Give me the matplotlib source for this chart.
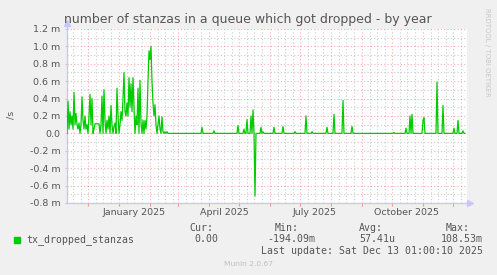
import numpy as np
import pandas as pd
import matplotlib
matplotlib.use('Agg')
import matplotlib.pyplot as plt
from matplotlib.patches import Rectangle

dense_start = '2024-11-10'
dense_values = [0.0, 0.37, 0.05, 0.25, 0.1, 0.2, 0.05, 0.47, 0.1, 0.23,
                0.1, 0.05, 0.12, 0.0, 0.1, 0.42, 0.15, 0.05, 0.2, 0.05,
                0.1, 0.0, 0.2, 0.45, 0.1, 0.4, 0.0, 0.05, 0.11, 0.11,
                0.11, 0.11, 0.11, 0.0, 0.1, 0.43, 0.0, 0.5, 0.15, 0.0,
                0.15, 0.05, 0.2, 0.0, 0.32, 0.1, 0.0, 0.08, 0.12, 0.0,
                0.52, 0.2, 0.0, 0.1, 0.25, 0.15, 0.4, 0.7, 0.25, 0.2,
                0.35, 0.2, 0.64, 0.3, 0.57, 0.25, 0.64, 0.3, 0.0, 0.2,
                0.1, 0.52, 0.0, 0.61, 0.12, 0.0, 0.15, 0.0, 0.15, 0.05,
                0.2, 0.6, 0.95, 0.85, 1.0, 0.6, 0.35, 0.2, 0.33, 0.1,
                0.0, 0.1, 0.2, 0.05, 0.0, 0.19, 0.02, 0.0, 0.02, 0.0,
                0.02]

# isolated spikes later in the year
spike_dates = ['2025-03-25', '2025-04-06', '2025-04-30', '2025-05-06', '2025-05-09',
               '2025-05-13', '2025-05-15', '2025-05-17', '2025-05-23', '2025-05-25',
               '2025-06-05', '2025-06-14', '2025-06-26', '2025-07-07', '2025-07-13',
               '2025-07-28', '2025-08-04', '2025-08-13', '2025-08-22', '2025-10-03',
               '2025-10-15', '2025-10-19', '2025-10-21', '2025-11-01', '2025-11-02',
               '2025-11-15', '2025-11-21', '2025-12-02', '2025-12-06', '2025-12-11']
spike_values = [0.07, 0.03, 0.09, 0.05, 0.16,
                0.2, 0.27, -0.72, 0.07, 0.02,
                0.07, 0.08, 0.02, 0.2, 0.02,
                0.07, 0.22, 0.38, 0.08, 0.01,
                0.06, 0.2, 0.22, 0.15, 0.18,
                0.59, 0.32, 0.06, 0.15, 0.03]
last_day = '2025-12-13'

x_start, x_end = '2024-11-10', '2025-12-15'
ytick_values = [-0.8, -0.6, -0.4, -0.2, 0.0, 0.2, 0.4, 0.6, 0.8, 1.0, 1.2]
ytick_labels = ['-0.8 m', '-0.6 m', '-0.4 m', '-0.2 m', '0.0', '0.2 m', '0.4 m',
                '0.6 m', '0.8 m', '1.0 m', '1.2 m']
month_labels = {'2025-01-16': 'January 2025', '2025-04-16': 'April 2025',
                '2025-07-16': 'July 2025', '2025-10-16': 'October 2025'}

days = pd.date_range(dense_start, last_day, freq='D')
series = pd.Series(0.0, index=days)
series.iloc[:len(dense_values)] = dense_values
series.loc[pd.to_datetime(spike_dates)] = spike_values

W, H = 497, 275
def fx(x):
    return x / W
def fy(y):
    return 1 - y / H

txt = '#555555'
fig = plt.figure(figsize=(W / 100, H / 100), dpi=100, facecolor='#f0f0f0')
ax = fig.add_axes([fx(67), fy(203), 400 / W, 174 / H])
ax.set_facecolor('white')

ax.plot(series.index, series.values, color='#00cc00', lw=0.9, zorder=3)

ax.set_xlim(pd.Timestamp(x_start), pd.Timestamp(x_end))
ax.set_ylim(-0.8, 1.2)

months = pd.date_range('2024-12-01', '2025-12-01', freq='MS')
minor_days = [d for d in pd.date_range(x_start, x_end, freq='D') if d.day in (9, 16, 24)]
ax.set_xticks(months)
ax.set_xticks(minor_days, minor=True)
ax.set_xticklabels([])
ax.set_yticks(ytick_values)
ax.set_yticks(np.arange(-0.7, 1.2, 0.2), minor=True)
ax.set_yticklabels(ytick_labels, fontsize=6.8, color=txt)

ax.grid(which='major', color='#ff8080', alpha=0.65, linestyle=(0, (1, 2)), lw=0.8, zorder=1)
ax.grid(which='minor', color='#cccccc', linestyle=(0, (1, 2)), lw=0.8, zorder=1)
ax.tick_params(axis='x', which='major', length=2, color='#ff9090')
ax.tick_params(axis='x', which='minor', length=0)
ax.tick_params(axis='y', which='major', length=1.5, pad=3.3, color='#c8c8c8')
ax.tick_params(axis='y', which='minor', length=0)

for s in ['top', 'right']:
    ax.spines[s].set_visible(False)
for s in ['left', 'bottom']:
    ax.spines[s].set_color('#c8c8f8')
    ax.spines[s].set_linewidth(1.0)
ax.plot([0, 0], [1.0, 1.035], transform=ax.transAxes, color='#c8c8f8', lw=1, clip_on=False)
ax.plot([1.0, 1.0075], [0, 0], transform=ax.transAxes, color='#c8c8f8', lw=1, clip_on=False)
ax.plot([0], [1.035], marker='^', ms=4, color='#c8c8f8', transform=ax.transAxes, clip_on=False)
ax.plot([1.0075], [0], marker='>', ms=4, color='#c8c8f8', transform=ax.transAxes, clip_on=False)

for d, lab in month_labels.items():
    ax.text(pd.Timestamp(d), -0.052, lab, transform=ax.get_xaxis_transform(),
            ha='center', va='center', fontsize=6.8, color=txt)

fig.text(fx(248), fy(19), 'number of stanzas in a queue which got dropped - by year',
         ha='center', va='center', fontsize=9, color=txt)
fig.text(fx(11), fy(115), '/s', rotation=90, ha='center', va='center', fontsize=6.8, color=txt)
fig.text(fx(487), fy(52), 'RRDTOOL / TOBI OETIKER', rotation=270, ha='center', va='center',
         fontsize=5, color='#c8c8c8')

mono = dict(family='DejaVu Sans Mono', fontsize=7.1, color=txt, va='center')
fig.patches.append(Rectangle((fx(14), fy(243)), 6 / W, 6 / H, transform=fig.transFigure,
                             color='#00cc00'))
fig.text(fx(26), fy(240), 'tx_dropped_stanzas', ha='left', **mono)
fig.text(fx(213), fy(228), 'Cur:', ha='right', **mono)
fig.text(fx(218), fy(239.5), '0.00', ha='right', **mono)
fig.text(fx(299), fy(228), 'Min:', ha='right', **mono)
fig.text(fx(315.7), fy(239.5), '-194.09m', ha='right', **mono)
fig.text(fx(383), fy(228), 'Avg:', ha='right', **mono)
fig.text(fx(395), fy(239.5), '57.41u', ha='right', **mono)
fig.text(fx(470), fy(228), 'Max:', ha='right', **mono)
fig.text(fx(482.7), fy(239.5), '108.53m', ha='right', **mono)
fig.text(fx(482.7), fy(251), 'Last update: Sat Dec 13 01:00:10 2025', ha='right', **mono)
fig.text(fx(248), fy(264.5), 'Munin 2.0.67', ha='center', va='center', fontsize=5.4, color='#c0c0c0')

fig.savefig('out.png', dpi=100, facecolor=fig.get_facecolor())
